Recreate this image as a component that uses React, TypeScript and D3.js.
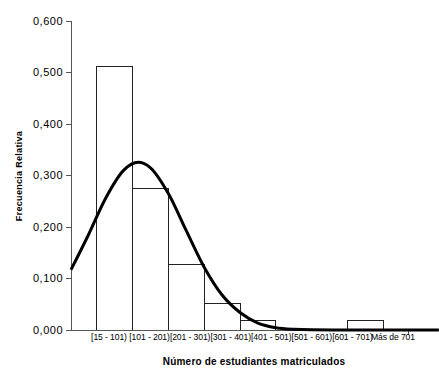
import React from "react";
import * as d3 from "d3";

const categories = ["[15 - 101)", "[101 - 201)", "[201 - 301)", "[301 - 401)", "[401 - 501)", "[501 - 601)", "[601 - 701)", "Más de 701"];
const relFreq = [0.511, 0.275, 0.128, 0.051, 0.019, 0, 0, 0.019];
const yTicks = [0, 0.1, 0.2, 0.3, 0.4, 0.5, 0.6];
// normal curve: position in category units (bar i spans [i, i+1]) and value
const curveX = [-0.717, -0.25, 0.25, 0.75, 1.16, 1.5, 2, 2.5, 3, 3.5, 4, 4.5, 5, 5.5, 6, 7, 8, 9.55];
const curveY = [0.117, 0.182, 0.256, 0.31, 0.3256, 0.315, 0.265, 0.193, 0.122, 0.068, 0.034, 0.0135, 0.0045, 0.0013, 0.0003, 0, 0, 0];

const W = 439, H = 369;
const axisX = 71, axisRight = 439;
const barLeft = 96.7, barRight = 383.3;
const yTop = 21, yBottom = 330;
const font = "'Liberation Sans', Arial, sans-serif";

export default function App() {
  const y = d3.scaleLinear().domain([0, 0.6]).range([yBottom, yTop]);
  const xb = d3.scaleBand<string>().domain(categories).range([barLeft, barRight]).padding(0);
  const xu = d3.scaleLinear().domain([0, categories.length]).range([barLeft, barRight]);
  const xl = d3.scalePoint<string>().domain(categories).range([109, 393]);
  const fmt = (v: number) => d3.format(".3f")(v).replace(".", ",");
  const line = d3.line<number>()
    .x((_, i) => xu(curveX[i]))
    .y((d) => y(d))
    .curve(d3.curveMonotoneX);

  return (
    <svg width={W} height={H} style={{ position: "absolute", left: 0, top: 0, background: "#fff" }} fontFamily={font}>
      {/* bars */}
      {categories.map((c, i) =>
        relFreq[i] > 0 ? (
          <rect key={c} x={xb(c)} y={y(relFreq[i])} width={xb.bandwidth()} height={y(0) - y(relFreq[i])}
            fill="#fff" stroke="#222" strokeWidth={1} shapeRendering="crispEdges" />
        ) : null
      )}
      {/* y axis */}
      <line x1={axisX} x2={axisX} y1={yTop} y2={yBottom} stroke="#555" strokeWidth={1} shapeRendering="crispEdges" />
      {yTicks.map((t) => (
        <g key={t}>
          <line x1={axisX - 5} x2={axisX} y1={y(t)} y2={y(t)} stroke="#555" shapeRendering="crispEdges" />
          <text x={axisX - 8} y={y(t)} dy="0.35em" textAnchor="end" fontSize={11} letterSpacing={0.5} fill="#000">{fmt(t)}</text>
        </g>
      ))}
      {/* x axis */}
      <line x1={axisX - 3} x2={axisRight} y1={yBottom} y2={yBottom} stroke="#555" shapeRendering="crispEdges" />
      <line x1={408} x2={408} y1={yBottom} y2={yBottom + 5} stroke="#555" shapeRendering="crispEdges" />
      {categories.map((c) => (
        <text key={c} x={xl(c)} y={yBottom + 10} textAnchor="middle" fontSize={8.6} letterSpacing={-0.1} fill="#000">{c}</text>
      ))}
      {/* normal curve */}
      <path d={line(curveY) || ""} fill="none" stroke="#000" strokeWidth={3} />
      {/* titles */}
      <text x={254} y={365} textAnchor="middle" fontSize={10} fontWeight="bold" letterSpacing={0.2}>Número de estudiantes matriculados</text>
      <text transform={`translate(22,176) rotate(-90)`} textAnchor="middle" fontSize={9} fontWeight="bold" letterSpacing={0.3}>Frecuencia Relativa</text>
    </svg>
  );
}
